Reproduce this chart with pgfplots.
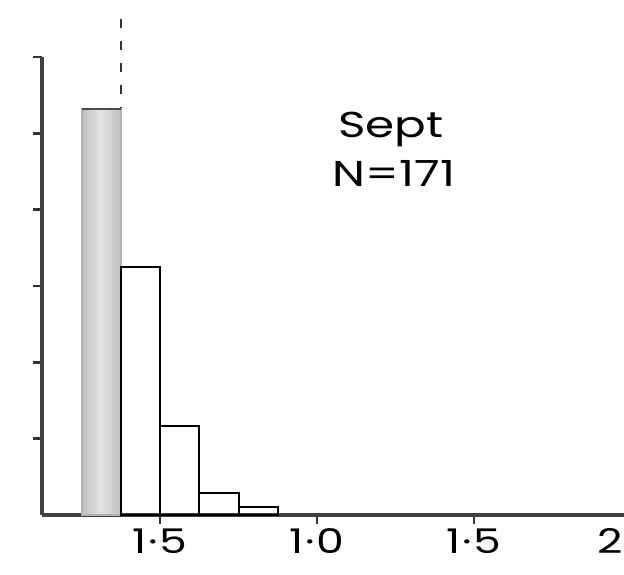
\documentclass[border=0pt]{standalone}
\usepackage{pgfplots}
\pgfplotsset{compat=1.18}
\usepackage{fontspec}
\setmainfont[FakeStretch=1.3]{Poppins}
\begin{document}
\begin{tikzpicture}[x=1pt,y=1pt]
\path[use as bounding box] (0,0) rectangle (624,574);
\begin{axis}[
  at={(42pt,59pt)}, anchor=south west,
  scale only axis, width=589pt, height=458pt,
  xmin=0.124, xmax=2.0, ymin=0, ymax=6,
  axis x line*=bottom, axis y line*=left,
  axis line style={-, line width=3.5pt, black!75},
  xtick={0.5,1,1.5,2},
  xticklabels={1\kern2pt·\kern2pt5,1\kern2pt·\kern2pt0,1\kern2pt·\kern2pt5,2\kern2pt·\kern2pt0},
  ytick={1,2,3,4,5,6}, yticklabels={},
  tick align=outside, major tick length=9pt,
  tick style={line width=2.5pt, black!80},
  xticklabel style={font=\fontsize{34}{40}\selectfont, yshift=-1pt},
  clip=false,
]
\addplot[ybar interval, left color=gray!50, right color=gray!50, middle color=gray!22, draw=gray!60, line width=2pt]
  coordinates {(0.25,5.32) (0.375,5.32)};
\addplot[black!70, line width=2.5pt] coordinates {(0.25,5.32) (0.375,5.32)};
\addplot[ybar interval, fill=none, draw=black, line width=2pt]
  coordinates {(0.375,3.25) (0.5,1.17) (0.625,0.29) (0.75,0.10) (0.875,0.10)};
\addplot[black!80, line width=2pt, dash pattern=on 9pt off 13pt]
  coordinates {(0.375,6.5) (0.375,5.34)};
\node[anchor=base west, font=\fontsize{36}{42}\selectfont, inner sep=0pt] at (axis cs:1.067,4.94) {Sept};
\node[anchor=base west, font=\fontsize{36}{42}\selectfont, inner sep=0pt] at (axis cs:1.05,4.31) {N=171};
\end{axis}
\end{tikzpicture}
\end{document}
